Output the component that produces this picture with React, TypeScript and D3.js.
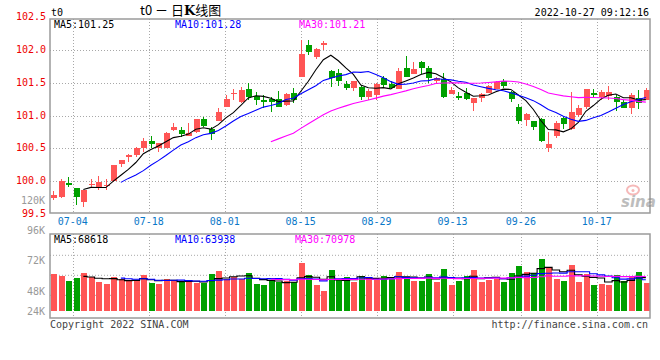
import React from 'react';
import * as d3 from 'd3';

// ---- data ----
const opens = [99.74,99.76,99.97,99.89,99.68,99.94,99.89,99.93,100.00,100.26,100.37,100.39,100.50,100.61,100.51,100.51,100.78,100.78,100.69,100.75,100.95,100.80,100.92,101.13,101.33,101.21,101.40,101.30,101.23,101.25,101.25,101.16,101.35,101.59,102.08,101.90,102.09,101.68,101.65,101.48,101.42,101.43,101.29,101.31,101.57,101.48,101.40,101.73,101.63,101.81,101.73,101.53,101.55,101.33,101.30,101.35,101.19,101.26,101.35,101.40,101.52,101.36,101.13,100.93,100.92,100.95,100.51,100.68,100.96,100.79,101.01,101.13,101.35,101.29,101.30,101.29,101.20,101.11,101.26,101.24];
const closes = [99.79,100.00,99.94,99.75,99.87,99.95,99.99,99.94,100.24,100.32,100.40,100.51,100.61,100.57,100.58,100.73,100.82,100.72,100.73,100.95,100.84,100.72,101.06,101.25,101.35,101.39,101.29,101.23,101.20,101.21,101.13,101.33,101.24,101.94,101.97,102.01,102.10,101.58,101.52,101.42,101.52,101.29,101.37,101.48,101.47,101.42,101.68,101.59,101.71,101.73,101.58,101.58,101.29,101.39,101.27,101.25,101.27,101.33,101.45,101.51,101.45,101.25,100.91,101.02,100.83,100.61,100.56,100.88,100.87,101.06,101.11,101.40,101.32,101.36,101.36,101.20,101.12,101.31,101.19,101.39];
const highs = [99.85,100.03,100.06,99.89,99.87,100.03,100.08,100.03,100.24,100.32,100.41,100.52,100.65,100.69,100.58,100.75,100.88,100.82,100.88,100.95,100.98,100.82,101.11,101.31,101.40,101.43,101.49,101.36,101.31,101.29,101.37,101.35,101.42,102.15,102.15,102.03,102.14,101.69,101.71,101.52,101.52,101.47,101.40,101.50,101.60,101.52,101.72,101.91,101.81,101.83,101.76,101.59,101.65,101.44,101.36,101.42,101.27,101.35,101.47,101.52,101.55,101.37,101.18,101.04,100.92,100.96,100.75,100.91,100.97,101.36,101.16,101.40,101.40,101.39,101.45,101.32,101.24,101.35,101.39,101.42];
const lows = [99.71,99.74,99.91,99.63,99.61,99.91,99.86,99.86,99.99,100.22,100.29,100.37,100.45,100.50,100.45,100.50,100.76,100.67,100.68,100.74,100.82,100.63,100.92,101.13,101.24,101.19,101.24,101.16,101.11,101.06,101.13,101.14,101.19,101.59,101.92,101.87,102.00,101.44,101.45,101.39,101.38,101.24,101.23,101.24,101.44,101.40,101.40,101.59,101.63,101.64,101.49,101.49,101.26,101.33,101.24,101.23,101.07,101.20,101.34,101.40,101.42,101.21,100.87,100.84,100.78,100.59,100.45,100.65,100.79,100.78,100.98,101.10,101.26,101.24,101.24,101.07,101.11,101.03,101.10,101.24];
const volumes = [75900,71800,61600,67700,78000,69800,59500,55400,69800,65700,61600,61600,73900,57500,55400,65700,63600,59500,59500,57500,57500,75900,82100,65700,69800,65700,78000,55400,53400,61600,59500,61600,59500,98500,73900,53400,41000,84100,65700,69800,59500,71800,69800,63600,71800,65700,80000,69800,61600,61600,75900,59500,86200,53400,61600,71800,84100,59500,63600,65700,59500,78000,92300,80000,78000,106700,90300,65700,61600,94400,59500,75900,53400,55400,53400,73900,61600,69800,80000,57500];

const dateLabels = ['07-04','07-18','08-01','08-15','08-29','09-13','09-26','10-17'];
const dateIndex = [3,13,23,33,43,53,62,72];
const priceTicks = [99.5,100.0,100.5,101.0,101.5,102.0,102.5];
const priceGrid = [100.0,100.5,101.0,101.5,102.0];
const volTickLabels = ['96K','72K','48K','24K'];
const volTickValues = [96000,72000,48000,24000];
const maPeriods = [5,10,30];
const maColors = ['#000000','#0000ff','#ff00ff'];
const priceMaLabels = ['MA5:101.25','MA10:101.28','MA30:101.21'];
const volMaLabels = ['MA5:68618','MA10:63938','MA30:70978'];

const RED = '#ff5555';
const GREEN = '#00a000';
const MONO = '"DejaVu Sans Mono", "Liberation Mono", monospace';

function movingAvg(arr: number[], n: number): (number | null)[] {
  return arr.map((_, i) => (i < n - 1 ? null : d3.mean(arr.slice(i - n + 1, i + 1)) as number));
}

export default function App() {
  const N = closes.length;
  const L = 50, R = 650;
  const x = d3.scaleBand<number>().domain(d3.range(N)).range([L, R]);
  const cx = (i: number) => (x(i) as number) + x.step() / 2 - 0.4;
  const gridX = d3.scaleLinear().domain([0, N - 1]).range([L, R]);
  const y = d3.scaleLinear().domain([99.5, 102.5]).range([213.75, 17.25]);
  const vy = d3.scaleLinear().domain([0, 158000]).range([311, 234]);
  const volLabelY = d3.scaleLinear().domain([24000, 48000, 72000, 96000]).range([311, 291.5, 260, 230]);

  const lineGen = d3.line<number | null>()
    .defined((d) => d !== null)
    .x((_, i) => cx(i))
    .y((d) => y(d as number));
  const volLineGen = d3.line<number | null>()
    .defined((d) => d !== null)
    .x((_, i) => cx(i))
    .y((d) => vy(d as number))
    .curve(d3.curveStep);

  const bw = 6;
  const gridStyle = { stroke: '#a8a8a8', strokeWidth: 1, strokeDasharray: '1,2' };

  return (
    <div style={{ position: 'fixed', left: 0, top: 0 }}>
      <svg width={660} height={360} style={{ display: 'block', background: '#fff' }}>
        {/* header */}
        <text x={51} y={16} fontFamily={MONO} fontSize={10} fill="#000">t0</text>
        <text x={140} y={15} fontFamily='"Noto Sans CJK SC", sans-serif' fontSize={13} fill="#000">
          t0 － 日<tspan fontWeight="bold" fontFamily='"DejaVu Serif", serif'>K</tspan>线图
        </text>
        <text x={649} y={16} fontFamily={MONO} fontSize={10} fill="#000" textAnchor="end">2022-10-27 09:12:16</text>

        {/* main grid */}
        {priceGrid.map((p) => (
          <line key={'pg' + p} x1={L} x2={R} y1={Math.round(y(p)) + 0.5} y2={Math.round(y(p)) + 0.5} {...gridStyle} />
        ))}
        {dateIndex.map((di) => (
          <line key={'vg' + di} x1={Math.round(gridX(di)) + 0.5} x2={Math.round(gridX(di)) + 0.5} y1={19} y2={213} {...gridStyle} />
        ))}

        {/* candles */}
        <g shapeRendering="crispEdges">
          {closes.map((c, i) => {
            const o = opens[i];
            const up = c >= o;
            const col = up ? RED : GREEN;
            const top = y(Math.max(o, c));
            const bot = y(Math.min(o, c));
            const xc = Math.round(cx(i));
            return (
              <g key={'c' + i}>
                <line x1={xc + 0.5} x2={xc + 0.5} y1={y(highs[i])} y2={y(lows[i])} stroke={col} strokeWidth={1} />
                <rect x={xc - bw / 2 + 0.5} y={top} width={bw} height={Math.max(1.2, bot - top)} fill={col} />
              </g>
            );
          })}
        </g>

        {/* price MAs */}
        {maPeriods.map((n, k) => (
          <path key={'ma' + n} d={lineGen(movingAvg(closes, n)) || ''} fill="none" stroke={maColors[k]} strokeWidth={1.1} />
        ))}

        {/* main frame */}
        <rect x={L} y={19} width={R - L} height={213 - 19} fill="none" stroke="#9a9a9a" strokeWidth={1.5} />

        {/* price legend */}
        {priceMaLabels.map((t, k) => (
          <text key={'pl' + k} x={[54, 175, 299][k]} y={27.5} fontFamily={MONO} fontSize={10} fill={maColors[k]}>{t}</text>
        ))}

        {/* price axis labels */}
        {priceTicks.map((p) => (
          <text key={'pt' + p} x={46} y={y(p) + 3} fontFamily={MONO} fontSize={10} fill="#ee0000" textAnchor="end">{p.toFixed(1)}</text>
        ))}
        <text x={45} y={203.5} fontFamily={MONO} fontSize={10} fill="#999" textAnchor="end">120K</text>

        {/* sina watermark */}
        <g opacity={0.55}>
          <ellipse cx={633} cy={190} rx={6} ry={4.5} fill="none" stroke="#f08080" strokeWidth={2} />
          <circle cx={633} cy={190.5} r={1.5} fill="#f08080" />
          <text x={621} y={207} fontFamily='"DejaVu Sans", sans-serif' fontStyle="italic" fontWeight="bold" fontSize={15} fill="#888">sina</text>
        </g>

        {/* date labels */}
        {dateIndex.map((di, k) => (
          <text key={'dl' + di} x={gridX(di)} y={224.5} fontFamily={MONO} fontSize={10} fill="#0a78c8" textAnchor="middle">{dateLabels[k]}</text>
        ))}

        {/* volume grid */}
        {[1, 2, 3].map((g) => (
          <line key={'vgl' + g} x1={L} x2={R} y1={235.3 + g * 20} y2={235.3 + g * 20} {...gridStyle} />
        ))}
        {dateIndex.map((di) => (
          <line key={'vvg' + di} x1={Math.round(gridX(di)) + 0.5} x2={Math.round(gridX(di)) + 0.5} y1={234} y2={318} {...gridStyle} />
        ))}

        {/* volume bars */}
        <g shapeRendering="crispEdges">
          {volumes.map((v, i) => {
            const up = closes[i] >= opens[i];
            const xc = Math.round(cx(i));
            return <rect key={'v' + i} x={xc - bw / 2 + 0.5} y={vy(v)} width={bw} height={vy(0) - vy(v)} fill={up ? RED : GREEN} />;
          })}
        </g>
        {maPeriods.map((n, k) => (
          <path key={'vma' + n} d={volLineGen(movingAvg(volumes, n)) || ''} fill="none" stroke={maColors[k]} strokeWidth={1.1} />
        ))}

        {/* volume frame */}
        <rect x={L} y={234} width={R - L} height={318 - 234} fill="none" stroke="#9a9a9a" strokeWidth={1.5} />

        {volMaLabels.map((t, k) => (
          <text key={'vl' + k} x={[54, 175, 295][k]} y={242.5} fontFamily={MONO} fontSize={10} fill={maColors[k]}>{t}</text>
        ))}
        {volTickValues.map((v, k) => (
          <text key={'vt' + v} x={45} y={volLabelY(v) + 3.5} fontFamily={MONO} fontSize={10} fill="#999" textAnchor="end">{volTickLabels[k]}</text>
        ))}

        {/* footer */}
        <text x={50} y={328} fontFamily={MONO} fontSize={10} fill="#444">Copyright 2022 SINA.COM</text>
        <text x={648} y={328} fontFamily={MONO} fontSize={10} fill="#444" textAnchor="end">http://finance.sina.com.cn</text>
      </svg>
    </div>
  );
}
